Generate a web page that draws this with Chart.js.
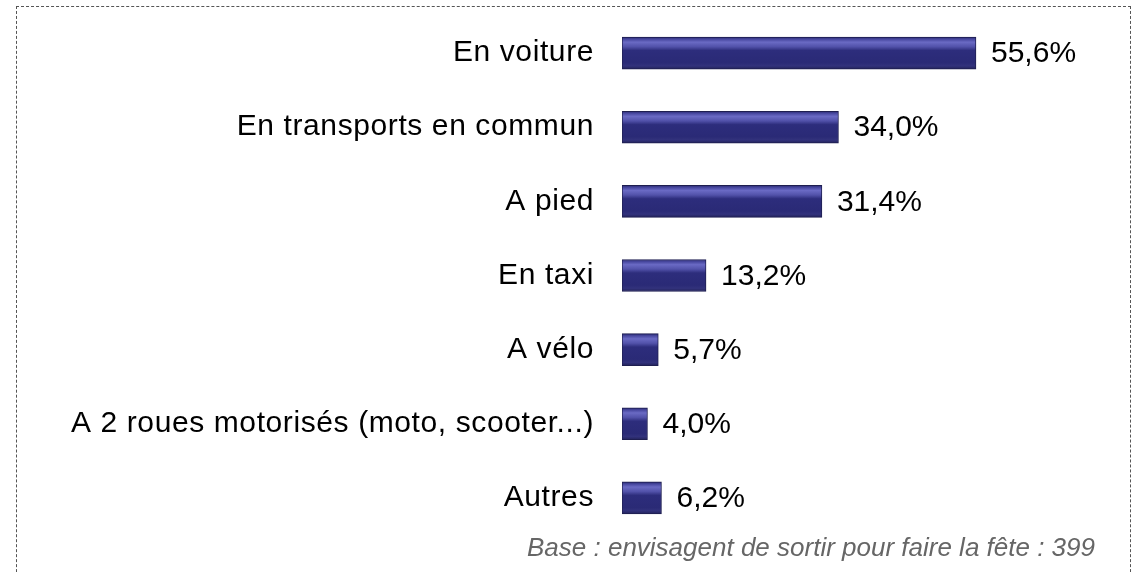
<!DOCTYPE html>
<html>
<head>
<meta charset="utf-8">
<script src="https://cdn.jsdelivr.net/npm/chart.js@4.4.1/dist/chart.umd.min.js"></script>
<style>
  body { margin: 0; background: #fff; }
  #wrap { position: relative; width: 1137px; height: 572px; overflow: hidden; }
  #frame {
    position: absolute; left: 16px; top: 6px; width: 1113px; height: 600px;
    border: 1px dashed #555; border-bottom: none;
  }
  #note {
    position: absolute; right: 42px; top: 532px;
    font-family: "Liberation Sans", Arial, sans-serif; font-style: italic;
    font-size: 26px; color: #666; white-space: nowrap;
  }
  /* lerretet flyttes opp slik at plottområdet starter ved y=16 */
  canvas { position: absolute; left: 0; top: -22px; }
</style>
</head>
<body>
<div id="wrap">
  <div id="frame"></div>
  <canvas id="diagram" width="1137" height="595"></canvas>
  <div id="note">Base : envisagent de sortir pour faire la fête : 399</div>
</div>
<script>
const categories = ['En voiture', 'En transports en commun', 'A pied', 'En taxi', 'A vélo', 'A 2 roues motorisés (moto, scooter...)', 'Autres'];
const values = [55.6, 34.0, 31.4, 13.2, 5.7, 4.0, 6.2];
const valueLabels = ['55,6%', '34,0%', '31,4%', '13,2%', '5,7%', '4,0%', '6,2%'];

const fontFamily = '"Liberation Sans", Arial, sans-serif';

/* skriver prosenten bak hver stolpe */
const valueText = {
  id: 'valueText',
  beforeDraw(chart) {
    chart.ctx.letterSpacing = '0.6px';
  },
  afterDatasetsDraw(chart) {
    const c = chart.ctx;
    const meta = chart.getDatasetMeta(0);
    c.save();
    c.letterSpacing = '0px';
    c.font = '30px ' + fontFamily;
    c.fillStyle = '#000';
    c.textBaseline = 'middle';
    meta.data.forEach((bar, i) => {
      c.fillText(valueLabels[i], bar.x + 15, bar.y + 1);
    });
    c.restore();
  }
};

function barFill(context) {
  const chart = context.chart;
  if (!chart.chartArea) return '#2e2e80';
  const y = chart.scales.y.getPixelForValue(context.dataIndex);
  if (!isFinite(y)) return '#2e2e80';
  const h = 32;
  const g = chart.ctx.createLinearGradient(0, y - h / 2, 0, y + h / 2);
  g.addColorStop(0, '#2a2a72');
  g.addColorStop(0.07, '#4848a0');
  g.addColorStop(0.16, '#6a6ac4');
  g.addColorStop(0.3, '#5252aa');
  g.addColorStop(0.42, '#2d2d7c');
  g.addColorStop(0.8, '#2a2a76');
  g.addColorStop(0.9, '#32327c');
  g.addColorStop(1, '#22225a');
  return g;
}

const ctx = document.getElementById('diagram');

new Chart(ctx, {
  type: 'bar',
  data: {
    labels: categories,
    datasets: [{
      data: values,
      backgroundColor: barFill,
      borderColor: '#1e1e50',
      borderWidth: 1,
      borderSkipped: false,
      barThickness: 32
    }]
  },
  plugins: [valueText],
  options: {
    indexAxis: 'y',
    responsive: false,
    animation: false,
    layout: { padding: { left: 0, right: 133, top: 0, bottom: 0 } },
    plugins: { legend: { display: false }, tooltip: { enabled: false } },
    scales: {
      x: {
        min: 0, max: 60,
        display: false
      },
      y: {
        grid: { display: false },
        border: { display: false },
        afterFit(scale) { scale.width = 622; },
        ticks: {
          color: '#000',
          padding: 20,
          font: { family: fontFamily, size: 30 }
        }
      }
    }
  }
});
</script>
</body>
</html>
